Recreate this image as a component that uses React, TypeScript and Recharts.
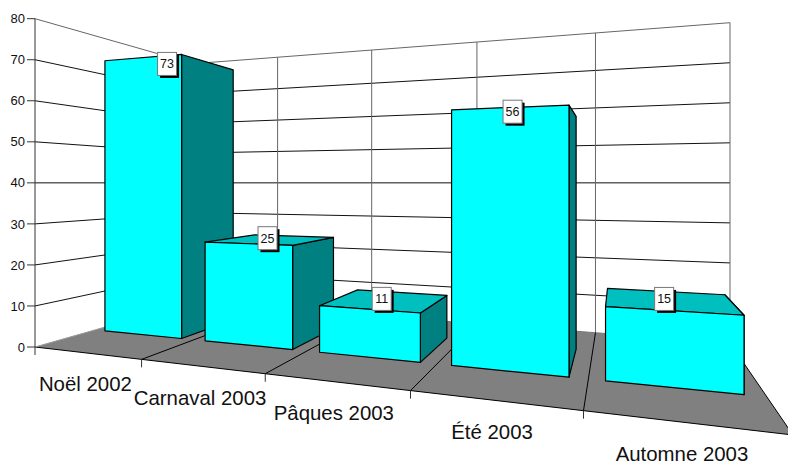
import React from "react";
import { ComposedChart, Bar, XAxis, YAxis, CartesianGrid, LabelList } from "recharts";

const categories = ["Noël 2002", "Carnaval 2003", "Pâques 2003", "Été 2003", "Automne 2003"];
const seriesValues = [73, 25, 11, 56, 15];
const yTicks = [0, 10, 20, 30, 40, 50, 60, 70, 80];
const rows = categories.map((name, i) => ({ name, value: seriesValues[i] }));

const WIDTH = 788;
const HEIGHT = 462;
const LEFT = 35;
const TOP = 18.7;
const BOTTOM = 347;
const PLOT_W = WIDTH - LEFT;
const HORIZON = (TOP + BOTTOM) / 2;
const FONT = "'Liberation Sans', Arial, sans-serif";
const W_FRONT = 0.31;
const W_BACK = 0.69;
const BAR_SHIFT = -0.0012;

// Square-to-quad homography for the floor, corners
const Q = { x0: 35, y0: 347, x1: 793, y1: 435, x2: 730, y2: 343, x3: 193, y3: 302 };
const dx1 = Q.x1 - Q.x2, dx2 = Q.x3 - Q.x2, sx = Q.x0 - Q.x1 + Q.x2 - Q.x3;
const dy1 = Q.y1 - Q.y2, dy2 = Q.y3 - Q.y2, sy = Q.y0 - Q.y1 + Q.y2 - Q.y3;
const den = dx1 * dy2 - dx2 * dy1;
const G = (sx * dy2 - dx2 * sy) / den;
const H = (dx1 * sy - sx * dy1) / den;

function floorPt(u: number, w: number) {
  const d = G * u + H * w + 1;
  return {
    x: ((Q.x1 - Q.x0 + G * Q.x1) * u + (Q.x3 - Q.x0 + H * Q.x3) * w + Q.x0) / d,
    y: ((Q.y1 - Q.y0 + G * Q.y1) * u + (Q.y3 - Q.y0 + H * Q.y3) * w + Q.y0) / d,
  };
}
// yPx: the value as placed by the chart's own y scale on the front-left edge
function project(u: number, w: number, yPx: number) {
  const f = floorPt(u, w);
  return { x: f.x, y: HORIZON + ((yPx - HORIZON) * (f.y - HORIZON)) / (BOTTOM - HORIZON) };
}
function leftWall(t: number, yPx: number) {
  const back = floorPt(0, 1);
  const x = LEFT + (back.x - LEFT) * t;
  const fy = BOTTOM + (back.y - BOTTOM) * t;
  return { x, y: HORIZON + ((yPx - HORIZON) * (fy - HORIZON)) / (BOTTOM - HORIZON) };
}
const pts = (list: { x: number; y: number }[]) => list.map((p) => `${p.x},${p.y}`).join(" ");
const toU = (x: number) => (x - LEFT) / PLOT_W;

function Floor() {
  const list = [floorPt(0, 0), floorPt(1, 0), floorPt(1, 1), floorPt(0, 1)];
  return (
    <g>
      <polygon points={pts(list)} fill="#808080" stroke="none" />
      <line x1={list[0].x} y1={list[0].y} x2={list[1].x} y2={list[1].y} stroke="#000" strokeWidth={1} />
      <line x1={list[1].x} y1={list[1].y} x2={list[2].x} y2={list[2].y} stroke="#000" strokeWidth={1} />
      <line x1={list[3].x} y1={list[3].y} x2={list[2].x} y2={list[2].y} stroke="#777" strokeWidth={1} />
      <line x1={list[0].x} y1={list[0].y} x2={list[3].x} y2={list[3].y} stroke="#999" strokeWidth={1} />
    </g>
  );
}

function HorizontalLine(props: any) {
  const y = props.y1;
  if (Math.abs(y - BOTTOM) < 0.5) return <Floor key={props.key} />;
  const color = Math.abs(y - TOP) < 0.5 ? "#666" : "#111";
  const a = leftWall(0, y);
  const b = leftWall(1, y);
  const c = project(1, 1, y);
  return (
    <polyline key={props.key} points={pts([a, b, c])} fill="none" stroke={color} strokeWidth={1} />
  );
}

function VerticalLine(props: any) {
  const n = categories.length;
  const k = toU(props.x1) * n - 0.5;
  if (k < -0.01 || Math.abs(k - Math.round(k)) > 0.01) return <g key={props.key} />;
  const u = (Math.round(k) + 1) / n;
  const top = project(u, 1, TOP);
  const back = project(u, 1, BOTTOM);
  const front = floorPt(u, 0);
  const top0 = project(0, 1, TOP);
  const back0 = project(0, 1, BOTTOM);
  return (
    <g key={props.key}>
      {Math.round(k) === 0 && (
        <g>
          <line x1={top0.x} y1={top0.y} x2={back0.x} y2={back0.y} stroke="#666" strokeWidth={1} />
          <line x1={LEFT} y1={BOTTOM} x2={LEFT} y2={BOTTOM + 8} stroke="#333" strokeWidth={1} />
        </g>
      )}
      <line x1={top.x} y1={top.y} x2={back.x} y2={back.y} stroke="#666" strokeWidth={1} />
      {u < 0.999 && <line x1={back.x} y1={back.y} x2={front.x} y2={front.y} stroke="#000" strokeWidth={1} />}
      {u < 0.999 && <line x1={front.x} y1={front.y} x2={front.x} y2={front.y + 8} stroke="#333" strokeWidth={1} />}
    </g>
  );
}

function Box3D(props: any) {
  const { x, y, width } = props;
  const u0 = toU(x) + BAR_SHIFT;
  const u1 = toU(x + width) + BAR_SHIFT;
  const fbl = project(u0, W_FRONT, BOTTOM);
  const fbr = project(u1, W_FRONT, BOTTOM);
  const ftl = project(u0, W_FRONT, y);
  const ftr = project(u1, W_FRONT, y);
  const bbr = project(u1, W_BACK, BOTTOM);
  const btr = project(u1, W_BACK, y);
  const btl = project(u0, W_BACK, y);
  const edge = { stroke: "#000", strokeWidth: 1.2, strokeLinejoin: "round" as const };
  return (
    <g>
      <polygon points={pts([fbr, ftr, btr, bbr])} fill="#008080" {...edge} />
      {y > HORIZON && <polygon points={pts([ftl, ftr, btr, btl])} fill="#00BFBF" {...edge} />}
      <polygon points={pts([fbl, fbr, ftr, ftl])} fill="#00FFFF" {...edge} />
    </g>
  );
}

function ValueTag(props: any) {
  const { x, y, width, value } = props;
  const p = project(toU(x + width / 2), 0.5, y);
  const cx = p.x - 5;
  const cy = p.y - 1.5;
  return (
    <g>
      <rect x={cx - 7} y={cy - 9} width={19} height={23} fill="#000" />
      <rect x={cx - 9.5} y={cy - 11.5} width={19} height={23} fill="#fff" stroke="#777" strokeWidth={1} />
      <text x={cx} y={cy + 4.5} textAnchor="middle" fontSize={12.5} fontFamily={FONT} fill="#111">
        {value}
      </text>
    </g>
  );
}

function CategoryTick(props: any) {
  const { x, payload } = props;
  const f = floorPt(toU(x), 0);
  return (
    <text x={f.x - 1} y={f.y + 38.5} textAnchor="middle" fontSize={20.4} fontFamily={FONT} fill="#111">
      {payload.value}
    </text>
  );
}

export default function App() {
  return (
    <div style={{ position: "absolute", left: 0, top: 0, width: WIDTH, height: HEIGHT }}>
      <ComposedChart
        width={WIDTH}
        height={HEIGHT}
        data={rows}
        margin={{ top: TOP, right: 0, bottom: 85, left: 0 }}
        barCategoryGap="11%"
      >
        <CartesianGrid horizontal={HorizontalLine as any} vertical={VerticalLine as any} />
        <XAxis dataKey="name" height={30} axisLine={false} tickLine={false} interval={0} tick={CategoryTick as any} />
        <YAxis
          width={35}
          domain={[0, 80]}
          ticks={yTicks}
          interval={0}
          tickSize={8}
          tickMargin={2}
          axisLine={{ stroke: "#333" }}
          tickLine={{ stroke: "#333" }}
          tick={{ fontSize: 13, fontFamily: FONT, fill: "#111" }}
        />
        <Bar dataKey="value" shape={Box3D as any} isAnimationActive={false}>
          <LabelList dataKey="value" content={ValueTag as any} />
        </Bar>
      </ComposedChart>
    </div>
  );
}
